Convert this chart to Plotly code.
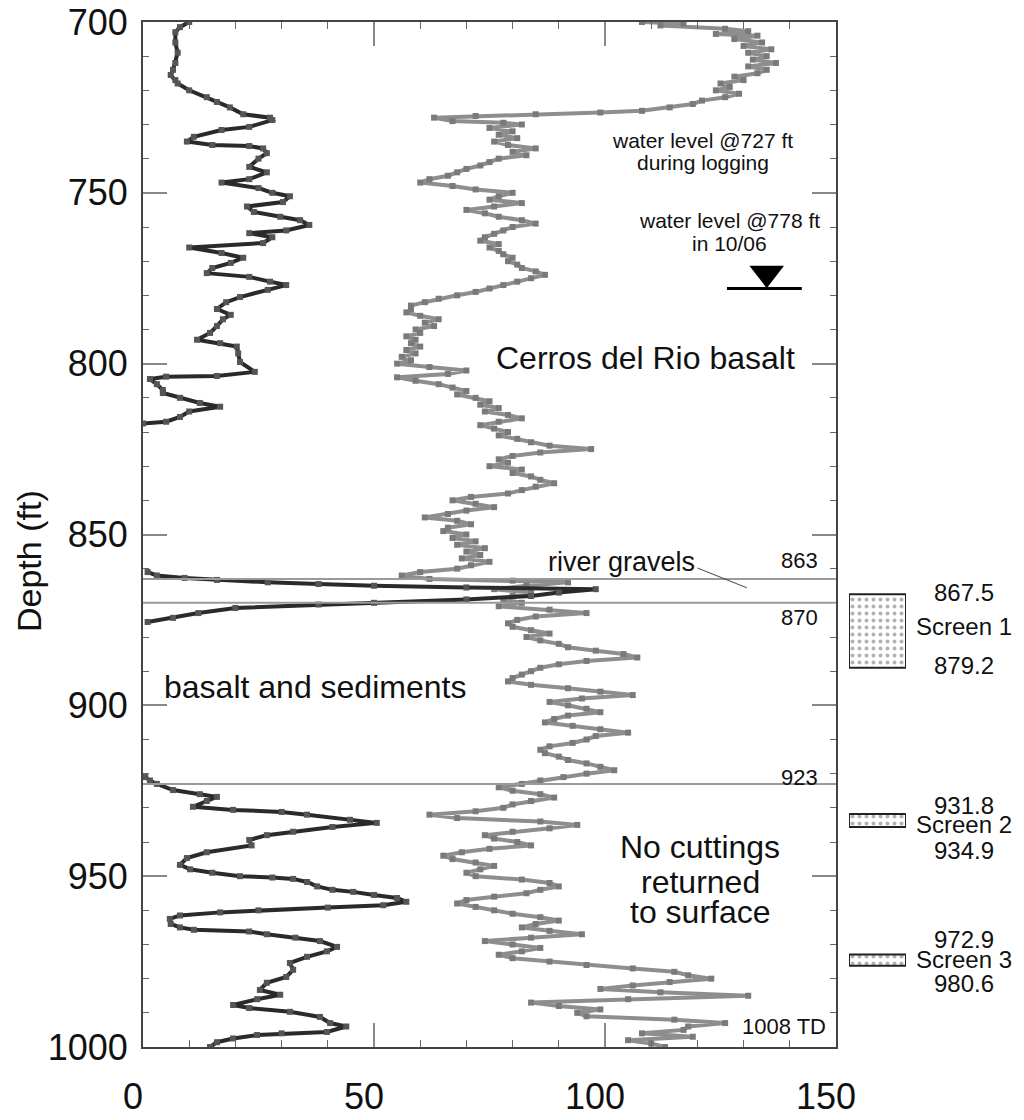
import plotly.graph_objects as go

# dark log curve (left), depth in ft and reading
black_depth = [700, 701.5, 703, 706, 709, 712, 714, 715.5, 717, 718, 720, 722, 723.4, 725, 727, 728, 728.7,
               730.7, 731.6, 733.6, 735, 736, 736.3, 737, 738.4, 740, 742.4, 744, 746, 747, 748.6, 750, 751,
               752.7, 754, 755.6, 757, 758, 759.4, 761, 761.8, 763, 764.7, 766, 767.6, 769, 770.5, 772, 773.5,
               774.6, 776, 777, 778.4, 780.5, 782, 784, 785.7, 787, 789, 791, 793, 794, 795, 797, 799.5, 802.4,
               803.6, 803.8, 804.5, 806, 807.7, 808.6, 810, 811.5, 812.6, 814, 815.6, 817, 817.5,
               840,
               861, 862, 862.7, 863.3, 864, 864.5, 865, 865.5, 866, 867, 868, 869, 870, 870.5, 871.5, 873, 874.4, 875.6,
               900,
               921, 922, 923, 924.8, 926, 926.8, 928, 929.7, 930.6, 931.2, 932, 933.5, 934.4, 935.6, 937, 938,
               939.4, 941, 943, 944.7, 946.7, 948, 949, 950, 950.4, 950.8, 951.7, 953, 954, 954.6, 955.5, 956.4,
               957.5, 958.5, 959.2, 960, 960.6, 961.5, 962.5, 964, 965, 965.7, 966.2, 967, 968, 969, 970.7, 972,
               973.6, 975.4, 977.4, 979.5, 981.2, 983.3, 984.7, 986, 987.7, 988.6, 989.7, 991.2, 993, 994, 995.6,
               996, 996.5, 997.5, 998.6, 1000]
black_value = [10, 8, 7, 7, 7.5, 7, 6.5, 6, 7, 7.5, 10, 13.8, 16, 18.8, 21.7, 27.5, 28,
               23, 17, 11, 9.5, 15, 23, 26, 26.8, 25, 23, 26.8, 23, 17, 25, 28, 31.8,
               30.3, 22.5, 24, 29.7, 34, 36, 31, 23, 28, 26, 10, 17, 21.7, 19, 15, 13.8,
               23, 27.5, 31, 27, 21, 18, 16, 19, 17.3, 16, 14.5, 11.7, 16.7, 20.3, 20.6, 21, 24.2,
               16, 5, 1.5, 3, 4.3, 4.3, 8, 12.3, 16.7, 10, 8, 5, 0,
               None,
               1, 3, 9, 16, 27, 38, 50, 70, 98, 90, 84, 70, 50, 38, 20, 12, 6.5, 1,
               None,
               0.5, 1.5, 3, 6.5, 12.3, 16, 13.8, 10.8, 19.5, 30, 35.5, 44.8, 50.6, 41, 32.5, 26.8,
               23, 23.5, 13.8, 9.5, 8, 10.2, 15, 21, 28, 32.5, 35.5, 37.7, 41, 45.5, 50, 55,
               57, 52, 40, 25, 16.7, 8, 5.8, 6, 8, 11, 23, 26.8, 33, 38.3, 42, 39.8,
               35.5, 31.8, 32.5, 31, 26.8, 25.3, 29.7, 24.7, 19.5, 23, 31.8, 38.3, 40.5, 44, 39.8,
               30, 24.7, 19.5, 16, 14.5]

# grey log curve (middle)
grey_depth = [700, 700.5, 701, 702, 702.7, 703.5, 704, 705, 706, 707, 708, 709, 710, 711, 712, 713, 714, 715,
              716, 717, 718, 719, 720, 721, 722, 723, 724, 725, 726, 726.5, 727, 727.5, 728, 729, 729.5, 730,
              731, 732, 733, 734, 735, 736, 737, 738, 739, 740, 741, 742, 743, 744, 745, 746, 747, 748, 749,
              750, 751, 752, 753, 754, 755, 756, 757, 758, 759, 760, 761, 762, 763, 764, 765, 766, 767, 768,
              769, 770, 771, 772, 773, 774, 775, 776, 777, 778, 779, 780, 781, 782, 783, 784, 785, 786, 787,
              788, 789, 790, 791, 792, 793, 794, 795, 796, 797, 798, 799, 800, 801, 802, 803, 804, 805, 806,
              807, 808, 809, 810, 811, 812, 813, 814, 815, 816, 817, 818, 819, 820, 821, 822, 823, 824, 825,
              826, 827, 828, 829, 830, 831, 832, 833, 834, 835, 836, 837, 838, 839, 840, 841, 842, 843, 844,
              845, 846, 847, 848, 849, 850, 851, 852, 853, 854, 855, 856, 857, 858, 859, 860, 861, 862, 863,
              863.5, 864, 865, 866, 867, 868, 869, 870, 871, 872, 873, 874, 875, 876, 877, 878, 879, 880, 881,
              882, 883, 884, 885, 886, 887, 888, 889, 890, 891, 892, 893, 894, 895, 896, 897, 898, 899, 900,
              901, 902, 903, 904, 905, 906, 907, 908, 909, 910, 911, 912, 913, 914, 915, 916, 917, 918, 919,
              920, 921, 922, 923, 924, 925, 926, 927, 928, 929, 930, 931, 932, 933, 934, 935, 936, 937, 938,
              939, 940, 941, 942, 943, 944, 945, 946, 947, 948, 949, 950, 951, 952, 953, 954, 955, 956, 957,
              958, 959, 960, 961, 962, 963, 964, 965, 966, 967, 968, 969, 970, 971, 972, 973, 974, 975, 976,
              977, 978, 979, 980, 981, 982, 983, 984, 985, 986, 987, 988, 989, 990, 991, 992, 993, 994, 995,
              996, 997, 998, 999, 1000]
grey_value = [108, 117, 112, 126, 131, 124, 133, 128, 134, 130, 136, 131, 135, 132, 137, 131, 135, 133,
              128, 130, 125, 127, 124, 129, 126, 121, 119, 114, 108, 99, 85, 72, 63, 67, 78, 82,
              75, 80, 77, 81, 76, 79, 85, 80, 83, 77, 75, 73, 70, 68, 66, 62, 60, 67, 72,
              80, 77, 75, 82, 76, 70, 74, 77, 82, 85, 80, 78, 76, 74, 73, 77, 75, 77, 78,
              80, 79, 81, 82, 85, 87, 84, 81, 78, 75, 72, 68, 64, 61, 58, 58, 57, 60, 64,
              61, 63, 59, 60, 57, 59, 58, 60, 57, 59, 56, 58, 55, 62, 70, 66, 55, 59, 64,
              67, 70, 68, 72, 75, 73, 77, 74, 79, 82, 77, 73, 76, 79, 77, 81, 84, 88, 97,
              86, 80, 77, 79, 75, 82, 80, 84, 86, 89, 85, 82, 79, 71, 67, 72, 76, 70, 66,
              61, 68, 71, 66, 65, 70, 67, 72, 68, 74, 70, 73, 69, 75, 71, 68, 60, 56, 62,
              80, 92, 83, 76, 84, 80, 78, 82, 77, 88, 96, 85, 81, 79, 80, 84, 88, 83, 86,
              90, 92, 98, 104, 107, 96, 90, 86, 84, 82, 80, 79, 84, 92, 99, 106, 95, 88, 92,
              96, 99, 92, 89, 87, 93, 99, 105, 98, 96, 93, 88, 86, 87, 90, 92, 96, 99, 102,
              96, 91, 86, 82, 77, 80, 86, 89, 84, 80, 78, 72, 62, 68, 86, 94, 88, 80, 74,
              76, 81, 84, 75, 69, 65, 67, 72, 76, 73, 70, 72, 82, 88, 90, 86, 83, 76, 70,
              68, 72, 76, 80, 86, 90, 85, 82, 88, 95, 84, 74, 80, 86, 82, 77, 80, 88, 96,
              106, 115, 118, 123, 114, 106, 99, 112, 131, 105, 84, 90, 99, 94, 96, 115, 126, 118, 117,
              108, 119, 105, 110, 113]

contacts = [863, 870, 923]
contact_labels = ["863", "870", "923"]
total_depth = 1008
water_logging = 727
water_1006 = 778
screen_names = ["Screen 1", "Screen 2", "Screen 3"]
screen_top = [867.5, 931.8, 972.9]
screen_bot = [879.2, 934.9, 980.6]
x_ticks = [0, 50, 100, 150]
y_ticks = [700, 750, 800, 850, 900, 950, 1000]

FONT = "Liberation Sans, Arial, Helvetica, sans-serif"
OFF = 8  # page body margin
W, H = 1024 - 2 * OFF, 1120 - 2 * OFF
ML, MT = 143 - OFF, 22 - OFF
MB = H - (1047 - OFF)
PW = W - ML  # plot area width (right margin 0)


def px_x(px):
    # page pixel -> paper x
    return (px - OFF - ML) / PW


fig = go.Figure()

fig.add_trace(go.Scatter(
    x=grey_value, y=grey_depth, mode="lines+markers",
    line=dict(color="#8e8e8e", width=4),
    marker=dict(symbol="square", size=6, color="#7a7a7a"),
    connectgaps=False, showlegend=False, hoverinfo="x+y"
))

fig.add_trace(go.Scatter(
    x=black_value, y=black_depth, mode="lines+markers",
    line=dict(color="#2a2a2a", width=4),
    marker=dict(symbol="square", size=6, color="#555555"),
    connectgaps=False, showlegend=False, hoverinfo="x+y"
))

# water level symbol
fig.add_trace(go.Scatter(
    x=[135], y=[water_1006 - 4.5], mode="markers",
    marker=dict(symbol="triangle-down", size=30, color="black"),
    cliponaxis=False, showlegend=False, hoverinfo="skip"
))

# screen symbols (drawn on a side axis next to the log)
box_height = [21.5, 3.8, 3.3]
for top, hgt in zip(screen_top, box_height):
    fig.add_trace(go.Scatter(
        x=[0, 1, 1, 0, 0], y=[top, top, top + hgt, top + hgt, top],
        xaxis="x2", yaxis="y2", mode="lines", fill="toself",
        fillcolor="white",
        fillpattern=dict(shape=".", fgcolor="#666", bgcolor="white", size=7, solidity=0.25),
        line=dict(color="#222", width=2),
        showlegend=False, hoverinfo="skip"
    ))

shapes = []
for c in contacts:
    shapes.append(dict(type="line", xref="x domain", x0=0, x1=1, yref="y", y0=c, y1=c,
                       line=dict(color="#9a9a9a", width=2)))
shapes.append(dict(type="line", xref="x", x0=126.4, x1=142.6, yref="y", y0=water_1006, y1=water_1006,
                   line=dict(color="black", width=3)))
# leader for river gravels
shapes.append(dict(type="line", xref="x", x0=120, x1=130.7, yref="y", y0=859.8, y1=865.6,
                   line=dict(color="#444", width=1)))

annotations = [
    dict(text="water level @%d ft" % water_logging, x=121.2, y=734.6, font=dict(size=21)),
    dict(text="during logging", x=121.2, y=741.0, font=dict(size=21)),
    dict(text="water level @%d ft" % water_1006, x=127, y=758.0, font=dict(size=21)),
    dict(text="in 10/06", x=127, y=764.7, font=dict(size=21)),
    dict(text="Cerros del Rio basalt", x=108.7, y=798.3, font=dict(size=32)),
    dict(text="river gravels", x=103.5, y=858, font=dict(size=27)),
    dict(text="basalt and sediments", x=37.2, y=894.6, font=dict(size=32)),
    dict(text="No cuttings", x=120.6, y=941.4, font=dict(size=32)),
    dict(text="returned", x=120.6, y=951.8, font=dict(size=32)),
    dict(text="to surface", x=120.6, y=960.6, font=dict(size=32)),
    dict(text="%d TD" % total_depth, x=129.2, y=994.1, xanchor="left", font=dict(size=22)),
]
label_y = [857.5, 874.4, 921]
for lab, ly in zip(contact_labels, label_y):
    annotations.append(dict(text=lab, x=146.5, y=ly, xanchor="right", font=dict(size=22)))

screen_rows = [(867.1, 877, 888.2), (929.4, 935, 942.6), (968.4, 974.5, 981.3)]
for name, top, bot, (y1, y2, y3) in zip(screen_names, screen_top, screen_bot, screen_rows):
    for txt, yy in ((str(top), y1), (name, y2), (str(bot), y3)):
        annotations.append(dict(text=txt, xref="paper", x=px_x(964), y=yy, font=dict(size=24)))

for a in annotations:
    a.setdefault("xref", "x")
    a.setdefault("yref", "y")
    a.setdefault("xanchor", "center")
    a.setdefault("yanchor", "middle")
    a.setdefault("showarrow", False)
    a["font"] = dict(family=FONT, color="#111", size=a["font"]["size"])

annotations.append(dict(text="Depth (ft)", xref="paper", yref="paper", x=px_x(29),
                        y=(1047 - 561) / (1047 - 22), xanchor="center", yanchor="middle",
                        textangle=-90, showarrow=False,
                        font=dict(family=FONT, size=34, color="#111")))

axis_style = dict(
    showline=True, linecolor="#444", linewidth=2, mirror="ticks",
    ticks="inside", ticklen=24, tickwidth=2, tickcolor="#888",
    showgrid=False, zeroline=False, automargin=False, ticklabeloverflow="allow",
    tickfont=dict(family=FONT, size=36, color="#111"),
)

fig.update_layout(
    width=W, height=H,
    margin=dict(l=ML, r=0, t=MT, b=MB),
    paper_bgcolor="white", plot_bgcolor="white",
    xaxis=dict(domain=[0, px_x(836)], range=[0, 150], tickvals=x_ticks,
               minor=dict(ticks="inside", dtick=10, ticklen=7, tickcolor="#666", tickwidth=1),
               ticklabelstandoff=17, ticklabelshift=-10, **axis_style),
    yaxis=dict(range=[1000, 700], tickvals=y_ticks,
               minor=dict(ticks="inside", dtick=10, ticklen=6, tickcolor="#666", tickwidth=1),
               ticklabelstandoff=6, **axis_style),
    xaxis2=dict(domain=[px_x(849), px_x(906)], range=[0, 1], visible=False, anchor="y2"),
    yaxis2=dict(domain=[0, 1], range=[1000, 700], visible=False, anchor="x2"),
    shapes=shapes,
    annotations=annotations,
)

fig.write_html("out.html")
